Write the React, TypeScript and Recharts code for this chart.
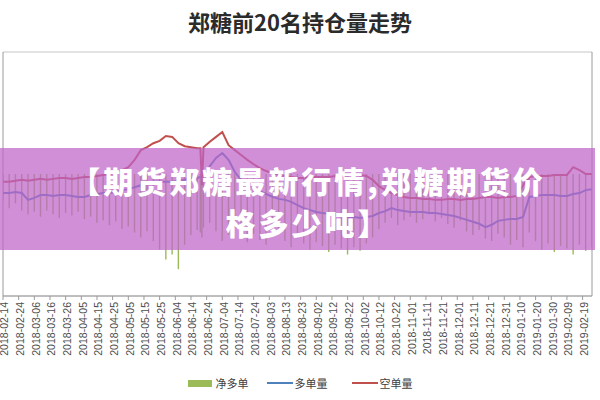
import React from 'react';
import { ComposedChart, Bar, Line, XAxis, YAxis, CartesianGrid } from 'recharts';

const title = '郑糖前20名持仓量走势';
const bannerLines = ['【期货郑糖最新行情,郑糖期货价', '格多少吨】'];
const seriesNames = ['净多单', '多单量', '空单量'];

// day offsets from 2018-02-14
const days = [
  0, 4, 8, 12, 16, 20, 24, 28, 32, 36, 40, 44, 48, 52, 56, 60, 64, 68, 72, 76,
  80, 84, 88, 92, 96, 100, 104, 108, 112, 116, 120, 124, 126, 127, 128, 132, 136, 140, 144, 148,
  152, 156, 160, 164, 168, 172, 176, 180, 184, 188, 192, 196, 200, 204, 208, 212, 216, 220, 224, 228,
  232, 236, 240, 244, 248, 252, 256, 260, 264, 268, 272, 276, 280, 284, 288, 292, 296, 300, 304, 308,
  312, 316, 320, 324, 328, 332, 336, 340, 344, 348, 352, 356, 360, 364, 368, 372, 376,
];

const shortVol = [
  234000, 234000, 236000, 238000, 236000, 238000, 240000, 238000, 240000, 242000, 242000, 240000, 242000, 244000, 244000, 246000, 248000, 250000, 254000, 258000,
  264000, 279000, 299000, 305000, 313000, 318000, 328000, 326000, 313000, 307000, 305000, 303000, 303000, 227000, 305000, 316000, 326000, 336000, 309000, 299000,
  289000, 279000, 270000, 262000, 256000, 252000, 248000, 246000, 244000, 242000, 242000, 244000, 244000, 244000, 244000, 246000, 246000, 248000, 248000, 248000,
  246000, 238000, 225000, 217000, 211000, 207000, 203000, 201000, 201000, 199000, 199000, 197000, 197000, 199000, 199000, 197000, 199000, 199000, 201000, 203000,
  203000, 201000, 203000, 203000, 205000, 227000, 244000, 246000, 246000, 246000, 248000, 248000, 248000, 264000, 258000, 250000, 250000,
];

const longVol = [
  211000, 211000, 213000, 211000, 197000, 201000, 207000, 207000, 205000, 207000, 207000, 205000, 203000, 203000, 207000, 209000, 211000, 211000, 213000, 217000,
  219000, 223000, 227000, 232000, 234000, 234000, 234000, 234000, 236000, 238000, 242000, 242000, 244000, 244000, 246000, 266000, 283000, 293000, 279000, 254000,
  238000, 227000, 221000, 215000, 209000, 203000, 199000, 197000, 193000, 186000, 180000, 176000, 172000, 170000, 168000, 166000, 164000, 162000, 162000, 160000,
  162000, 164000, 170000, 174000, 180000, 176000, 174000, 172000, 172000, 172000, 170000, 170000, 168000, 166000, 164000, 160000, 156000, 152000, 148000, 141000,
  146000, 154000, 156000, 158000, 158000, 162000, 203000, 205000, 207000, 207000, 207000, 205000, 205000, 209000, 211000, 217000, 219000,
];

const netLong = [
  -22000, -28000, -24000, -30000, -33000, -31000, -35000, -30000, -33000, -36000, -32000, -34000, -31000, -37000, -35000, -40000, -38000, -42000, -39000, -45000,
  -43000, -48000, -52000, -47000, -55000, -62000, -70000, -66000, -78000, -58000, -50000, -46000, -48000, -52000, -44000, -40000, -47000, -55000, -50000, -44000,
  -52000, -56000, -49000, -54000, -58000, -51000, -47000, -55000, -60000, -53000, -57000, -62000, -56000, -59000, -64000, -58000, -61000, -66000, -60000, -63000,
  -57000, -52000, -45000, -40000, -36000, -42000, -38000, -35000, -40000, -37000, -33000, -39000, -36000, -41000, -44000, -38000, -47000, -50000, -46000, -53000,
  -55000, -49000, -52000, -58000, -54000, -60000, -48000, -55000, -62000, -57000, -64000, -59000, -61000, -66000, -58000, -63000, -60000,
];

const tickDays = [
  0, 10, 20, 30, 40, 50, 60, 70, 80, 90, 100, 110, 120, 130, 140, 150, 160, 170, 180, 190,
  200, 210, 220, 230, 240, 250, 260, 270, 280, 290, 300, 310, 320, 330, 340, 350, 360, 370,
];
const tickLabels = [
  '2018-02-14', '2018-02-24', '2018-03-06', '2018-03-16', '2018-03-26', '2018-04-05', '2018-04-15', '2018-04-25',
  '2018-05-05', '2018-05-15', '2018-05-25', '2018-06-04', '2018-06-14', '2018-06-24', '2018-07-04', '2018-07-14',
  '2018-07-24', '2018-08-03', '2018-08-13', '2018-08-23', '2018-09-02', '2018-09-12', '2018-09-22', '2018-10-02',
  '2018-10-12', '2018-10-22', '2018-11-01', '2018-11-11', '2018-11-21', '2018-12-01', '2018-12-11', '2018-12-21',
  '2018-12-31', '2019-01-10', '2019-01-20', '2019-01-30', '2019-02-09', '2019-02-19',
];

const leftTicks = [0, 50000, 100000, 150000, 200000, 250000, 300000, 350000, 400000, 450000, 500000];
const rightTicks = [-100000, -80000, -60000, -40000, -20000, 0, 20000, 40000, 60000, 80000, 100000];

const data = days.map((d, i) => ({ d, net: netLong[i], long: longVol[i], short: shortVol[i] }));

const COLORS = { net: '#9BBB59', long: '#4F81BD', short: '#C0504D' };
const CJK = '"Noto Sans CJK SC", "Noto Sans", sans-serif';

const DateTick = (props: any) => {
  const { x, y, payload } = props;
  const idx = tickDays.indexOf(payload.value);
  return (
    <g transform={`translate(${x},${y})`}>
      <text
        transform="rotate(-90)"
        textAnchor="end"
        dy="0.5em"
        fontSize={10.5}
        fill="#4D4D4D"
        fontFamily='"Liberation Sans", Arial, sans-serif'
      >
        {tickLabels[idx]}
      </text>
    </g>
  );
};

export default function App() {
  return (
    <div style={{ position: 'absolute', left: 0, top: 0, width: 600, height: 400, background: '#fff', overflow: 'hidden' }}>
      <div
        style={{
          position: 'absolute', left: 0, top: 6, width: 600, textAlign: 'center',
          fontFamily: CJK, fontWeight: 700, fontSize: 22, color: '#2B2B2B', lineHeight: '30px',
        }}
      >
        {title}
      </div>
      <ComposedChart
        width={600}
        height={400}
        data={data}
        margin={{ top: 52, right: 5, bottom: 44, left: 0 }}
      >
        <CartesianGrid yAxisId="l" vertical={false} stroke="#C6C6C6" strokeWidth={1} />
        <XAxis
          dataKey="d"
          type="number"
          domain={[0, 376]}
          ticks={tickDays}
          interval={0}
          height={60}
          tickSize={4}
          tickMargin={2}
          tick={<DateTick />}
          stroke="#9A9A9A"
          allowDataOverflow
        />
        <YAxis
          yAxisId="l"
          domain={[0, 500000]}
          ticks={leftTicks}
          width={3}
          tickSize={3}
          tick={false}
          stroke="#9A9A9A"
          allowDataOverflow
        />
        <YAxis
          yAxisId="r"
          orientation="right"
          domain={[-100000, 100000]}
          ticks={rightTicks}
          width={3}
          tickSize={3}
          tick={false}
          stroke="#9A9A9A"
          allowDataOverflow
        />
        <Bar yAxisId="r" dataKey="net" name={seriesNames[0]} fill={COLORS.net} barSize={2.5} isAnimationActive={false} />
        <Line yAxisId="l" dataKey="long" name={seriesNames[1]} stroke={COLORS.long} strokeWidth={2} dot={false} type="linear" isAnimationActive={false} />
        <Line yAxisId="l" dataKey="short" name={seriesNames[2]} stroke={COLORS.short} strokeWidth={2} dot={false} type="linear" isAnimationActive={false} />
      </ComposedChart>

      <div
        style={{
          position: 'absolute', left: 0, top: 148, width: 595, height: 102,
          background: 'rgba(190, 100, 200, 0.72)',
        }}
      />
      <div
        style={{
          position: 'absolute', left: 8, top: 159, width: 600, textAlign: 'center',
          fontFamily: CJK, fontWeight: 900, fontSize: 30, letterSpacing: 3, color: '#fff', lineHeight: '42px',
        }}
      >
        <div>{bannerLines[0]}</div>
        <div>{bannerLines[1]}</div>
      </div>

      <div
        style={{
          position: 'absolute', left: 0, top: 375, width: 600, display: 'flex', justifyContent: 'center',
          alignItems: 'center', fontFamily: CJK, fontSize: 11, color: '#404040', lineHeight: '16px',
        }}
      >
        <span style={{ display: 'inline-block', width: 24, height: 7, background: COLORS.net, marginRight: 4 }} />
        <span style={{ marginRight: 18 }}>{seriesNames[0]}</span>
        <span style={{ display: 'inline-block', width: 26, height: 2.5, background: COLORS.long, marginRight: 2 }} />
        <span style={{ marginRight: 24 }}>{seriesNames[1]}</span>
        <span style={{ display: 'inline-block', width: 26, height: 2.5, background: COLORS.short, marginRight: 2 }} />
        <span>{seriesNames[2]}</span>
      </div>
    </div>
  );
}
